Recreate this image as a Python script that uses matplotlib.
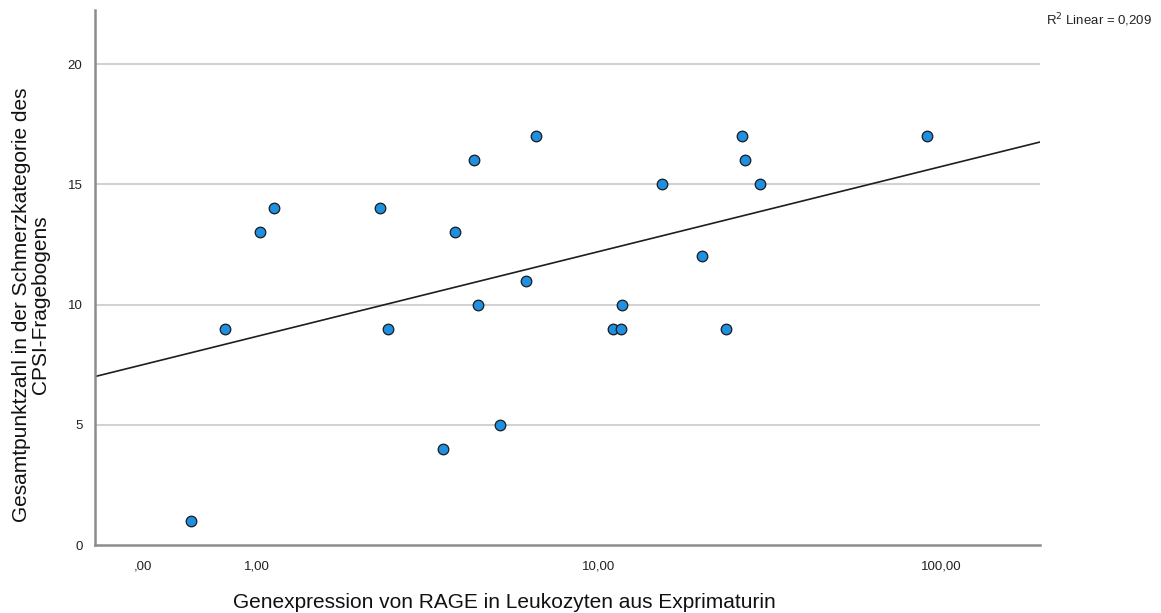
import numpy as np
import matplotlib
matplotlib.use("Agg")
import matplotlib.pyplot as plt

plt.rcParams['font.family'] = ['Liberation Sans', 'DejaVu Sans']

# RAGE expression (leukocytes, expressed prostatic secretion) and CPSI pain score
rage_expression = [0.42, 0.72, 1.02, 1.12, 2.29, 2.42, 3.49, 3.79, 4.32, 4.42,
                   5.13, 6.13, 6.53, 11.0, 11.57, 11.67, 15.25, 20.0, 23.6,
                   26.2, 26.8, 29.6, 91.2]
pain_score = [1, 9, 13, 14, 14, 9, 4, 13, 16, 10, 5, 11, 17, 9, 9, 10, 15, 12,
              9, 17, 16, 15, 17]

x_ticks = [0, 1, 10, 100]
x_tick_labels = [',00', '1,00', '10,00', '100,00']
y_ticks = [0, 5, 10, 15, 20]
r2_label = 'R$^2$ Linear = 0,209'


# safe-log scale: logarithmic above 1, linear below (so that zero can be shown)
def safe_log(x):
    x = np.asarray(x, dtype=float)
    return np.where(x >= 1, np.log10(np.maximum(x, 1.0)), (x - 1.0) / 3.0)


def safe_log_inv(t):
    t = np.asarray(t, dtype=float)
    return np.where(t >= 0, 10.0 ** np.maximum(t, 0.0), 1.0 + 3.0 * t)


fig = plt.figure(figsize=(11.61, 6.13), dpi=100)
ax = fig.add_axes([95 / 1161, 1 - 545 / 613, (1040 - 95) / 1161, (545 - 10) / 613])
ax.set_xscale('function', functions=(safe_log, safe_log_inv))

x_lo, x_hi = float(safe_log_inv(-0.474)), float(safe_log_inv(2.29))
ax.set_xlim(x_lo, x_hi)
ax.set_ylim(0, 22.25)

# horizontal reference lines
for yv in y_ticks[1:]:
    ax.axhline(yv, color='#d2d2d2', lw=1.5, zorder=1)

# linear fit in the transformed x space
tx = safe_log(rage_expression)
slope, intercept = np.polyfit(tx, pain_score, 1)
t_line = np.linspace(-0.474, 2.29, 200)
ax.plot(safe_log_inv(t_line), intercept + slope * t_line, color='#1e1e1e',
        lw=1.2, zorder=2)

ax.scatter(rage_expression, pain_score, s=58, facecolor='#1f8fe0',
           edgecolor='#1a1a1a', linewidths=0.9, zorder=3)

ax.set_xticks(x_ticks)
ax.set_xticklabels(x_tick_labels)
ax.set_yticks(y_ticks)
ax.xaxis.set_minor_locator(matplotlib.ticker.NullLocator())
ax.tick_params(axis='both', length=0, labelsize=9.5, colors='#222222')
ax.tick_params(axis='x', pad=11)
ax.tick_params(axis='y', pad=9)

for side in ('top', 'right'):
    ax.spines[side].set_visible(False)
for side in ('left', 'bottom'):
    ax.spines[side].set_color('#8c8c8c')
    ax.spines[side].set_linewidth(1.8)

fig.text(504 / 1161, 1 - 602 / 613, 'Genexpression von RAGE in Leukozyten aus Exprimaturin',
         ha='center', va='center', fontsize=15, color='#111111')
fig.text(31 / 1161, 1 - 305 / 613,
         'Gesamtpunktzahl in der Schmerzkategorie des\nCPSI-Fragebogens',
         ha='center', va='center', rotation=90, fontsize=15, color='#111111',
         linespacing=1.0, multialignment='center')
fig.text(1152 / 1161, 1 - 20 / 613, r2_label, ha='right', va='center',
         fontsize=9.5, color='#222222')

fig.savefig('out.png', dpi=100)
